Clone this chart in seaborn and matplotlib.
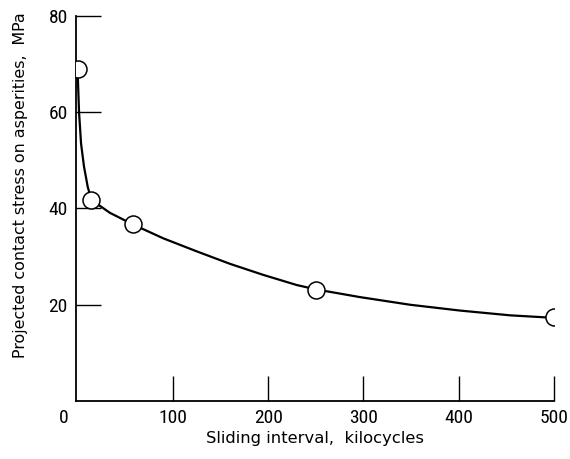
import pandas as pd
import seaborn as sns
import matplotlib.pyplot as plt

# measured points (sliding interval in kilocycles, stress in MPa)
interval = [0, 14.5, 58, 250, 500]
stress = [69, 41.8, 36.7, 23.1, 17.4]

# faired curve
curve_x = [0, 1.6, 3.7, 6.8, 10.7, 14.5, 34, 58, 90, 125, 160, 195, 230,
           250, 296, 349, 401, 454, 489, 500]
curve_y = [69, 60.0, 53.5, 48.7, 44.5, 41.8, 39.1, 36.7, 33.8, 31.1, 28.5,
           26.2, 24.1, 23.2, 21.6, 20.0, 18.8, 17.8, 17.4, 17.3]

x_ticks = [100, 200, 300, 400, 500]
y_ticks = [20, 40, 60, 80]

pts = pd.DataFrame({"interval": interval, "stress": stress})
crv = pd.DataFrame({"x": curve_x, "y": curve_y})

sns.set_style("ticks")
plt.rcParams["font.family"] = ["DejaVu Sans"]
plt.rcParams["text.color"] = "black"
plt.rcParams["axes.labelcolor"] = "black"
plt.rcParams["xtick.color"] = "black"
plt.rcParams["ytick.color"] = "black"

fig = plt.figure(figsize=(5.7, 4.59), dpi=100)
ax = fig.add_axes([76 / 570, 58 / 459, 478 / 570, 385 / 459])

sns.lineplot(data=crv, x="x", y="y", sort=False, estimator=None,
             color="black", linewidth=1.6, ax=ax, zorder=2)
sns.scatterplot(data=pts, x="interval", y="stress", s=150, color="white",
                edgecolor="black", linewidth=1.1, ax=ax, zorder=3)

ax.set_xlim(-1.6, 500)
ax.set_ylim(0, 80)
ax.set_xticks(x_ticks)
ax.set_yticks(y_ticks)

tick_font = {"family": ["DejaVu Sans Condensed", "Liberation Sans Narrow",
                        "Roboto Condensed", "DejaVu Sans"],
             "stretch": "condensed", "size": 14}
ax.set_xticklabels([str(t) for t in x_ticks], fontdict=tick_font)
ax.set_yticklabels([str(t) for t in y_ticks], fontdict=tick_font)
ax.annotate("0", xy=(0, 0), xycoords="data", xytext=(-10, -6),
            textcoords="offset points", ha="center", va="top", **tick_font)

ax.tick_params(axis="x", direction="in", length=18, width=1.0, pad=6)
ax.tick_params(axis="y", direction="in", length=18, width=1.0, pad=6)

sns.despine(ax=ax)
for side in ["left", "bottom"]:
    ax.spines[side].set_linewidth(1.3)
    ax.spines[side].set_color("black")

ax.set_xlabel("Sliding interval,  kilocycles", fontsize=11.8, labelpad=3)
ax.set_ylabel("Projected contact stress on asperities,  MPa", fontsize=11.4)
ax.yaxis.set_label_coords(-0.1, 0.56)

fig.savefig("out.png", dpi=100)
